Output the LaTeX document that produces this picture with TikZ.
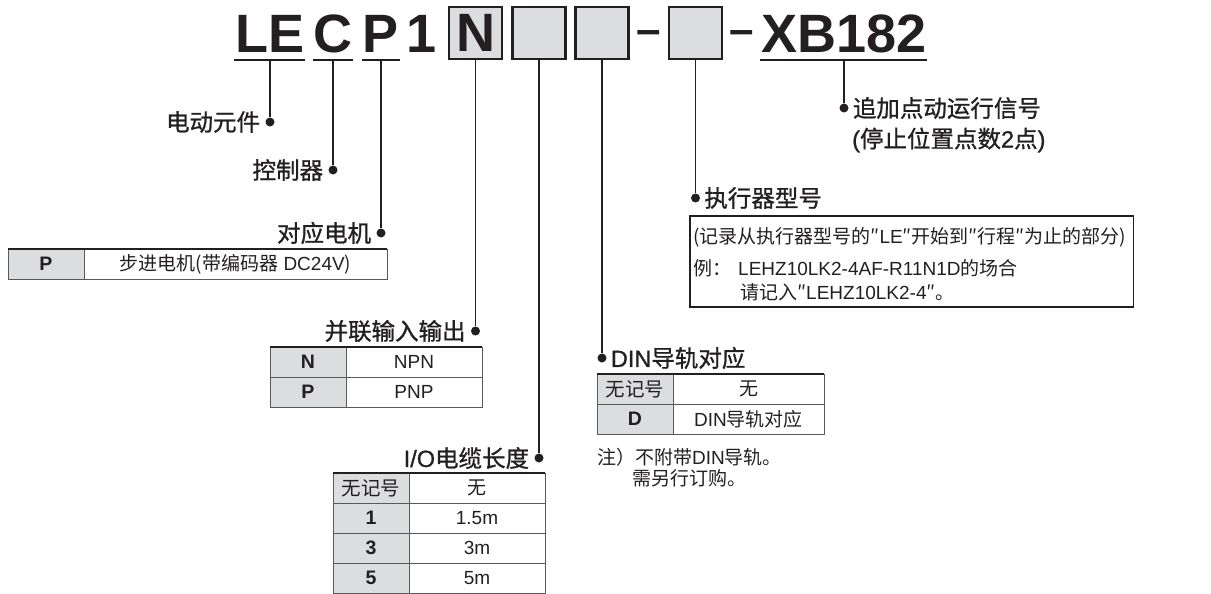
\documentclass[tikz,border=0pt]{standalone}
\usepackage{fontspec}
\setmainfont{Liberation Sans}
\newfontfamily\cjk{Noto Sans CJK SC}
\newfontfamily\cjkm[FakeBold=1]{Noto Sans CJK SC}
\newfontfamily\latm[FakeBold=1]{Liberation Sans}
\usetikzlibrary{positioning}
\definecolor{ink}{HTML}{231F20}
\definecolor{cellgray}{HTML}{DCDDDE}
\definecolor{rulegray}{HTML}{58595B}
\tikzset{
  code/.style={font=\fontsize{54}{54}\selectfont\bfseries, text=ink, inner sep=0pt, anchor=base},
  sep/.style={font=\fontsize{44}{44}\selectfont\bfseries, text=ink, inner sep=0pt, anchor=base},
  slot/.style={draw=ink, line width=2.2pt, fill=cellgray, minimum width=53pt, minimum height=52pt, inner sep=0pt, font=\fontsize{54}{54}\selectfont\bfseries, text=ink},
  uline/.style={draw=ink, line width=2.5pt},
  lead/.style={draw=ink, line width=1.6pt},
  pin/.style={circle, fill=ink, inner sep=0pt, minimum size=9pt},
  lab/.style={font=\fontsize{23.5}{30}\selectfont\cjkm, text=ink, inner sep=0pt},
  cell/.style={draw=rulegray, line width=1pt, minimum height=30pt, inner sep=0pt, outer sep=0pt, text=ink, font=\fontsize{19}{22}\selectfont},
  codecell/.style={cell, fill=cellgray, minimum width=76pt, font=\fontsize{19.5}{22}\selectfont\bfseries},
  toprule/.style={draw=ink, line width=2.2pt},
  note/.style={font=\fontsize{19}{22}\selectfont, text=ink, inner sep=0pt, anchor=west},
  actbox/.style={draw=ink, line width=1.6pt},
}
\begin{document}
\begin{tikzpicture}[x=1pt, y=-1pt]
\useasboundingbox (0,0) rectangle (1211,594);
% model code
\node[code] (LE) at (270,53) {LE};
\node[code] (C) at (333,53) {C};
\node[code] (P) at (381,53) {P};
\node[code] (one) at (421.5,53) {1};
\node[slot] (sN) at (475.5,33) {N};
\node[slot] (sIO) at (539,33) {};
\node[slot] (sDIN) at (602,33) {};
\node[sep] (d1) at (648.5,44.2) {–};
\node[slot] (sAct) at (695.5,33) {};
\node[sep] (d2) at (741.5,44.2) {–};
\node[code] (XB) at (844,53) {XB182};
\draw[uline] (234,60) -- (305,60);
\draw[uline] (313,60) -- (353,60);
\draw[uline] (362,60) -- (400,60);
\draw[uline] (760,60) -- (927,60);
\coordinate (uLE) at (270,60);
\coordinate (uC) at (333,60);
\coordinate (uP) at (381,60);
\coordinate (uXB) at (844,60);

% leads and labels
\node[pin] (pLE) at (270,122) {};
\node[pin] (pC) at (333,170) {};
\node[pin] (pP) at (381,233) {};
\node[pin] (pN) at (475.5,331) {};
\node[pin] (pIO) at (539,458) {};
\node[pin] (pDIN) at (602,358) {};
\node[pin] (pAct) at (695.5,198) {};
\node[pin] (pXB) at (844,108) {};
\draw[lead] (uLE) -- (pLE);
\draw[lead] (uC) -- (pC);
\draw[lead] (uP) -- (pP);
\draw[lead] (sN.south) -- (pN);
\draw[lead] (sIO.south) -- (pIO);
\draw[lead] (sDIN.south) -- (pDIN);
\draw[lead] (sAct.south) -- (pAct);
\draw[lead] (uXB) -- (pXB);
\node[lab, left=5pt of pLE] (lLE) {电动元件};
\node[lab, left=5pt of pC] (lC) {控制器};
\node[lab, left=5pt of pP] (lP) {对应电机};
\node[lab, left=5pt of pN] (lN) {并联输入输出};
\node[lab, left=5pt of pIO] (lIO) {{\latm I/O}电缆长度};
\node[lab, right=4pt of pDIN] (lDIN) {{\latm DIN}导轨对应};
\node[lab, right=4pt of pAct] (lAct) {执行器型号};
\node[lab, right=4pt of pXB] (lXB) {追加点动运行信号};
\node[lab, anchor=west] (lXB2) at (852,140) {{\latm (}停止位置点数{\latm 2}点{\latm )}};

% motor
\node[codecell, anchor=north west] (tP) at (8,249) {P};
\node[cell, minimum width=303pt, right=0pt of tP] (tPd) {{\cjk 步进电机(带编码器} DC24V{\cjk )}};
\draw[toprule] (tP.north west) -- (tPd.north east);

% parallel I/O
\node[codecell, anchor=north west] (tN) at (270,347) {N};
\node[cell, minimum width=136pt, right=0pt of tN] (tNd) {NPN};
\node[codecell, below=0pt of tN] (tPN) {P};
\node[cell, minimum width=136pt, right=0pt of tPN] (tPNd) {PNP};
\draw[toprule] (tN.north west) -- (tNd.north east);

% I/O cable
\node[codecell, anchor=north west] (tI0) at (333,473) {\mdseries\cjk 无记号};
\node[cell, minimum width=136pt, right=0pt of tI0] (tI0d) {\cjk 无};
\node[codecell, below=0pt of tI0] (tI1) {1};
\node[cell, minimum width=136pt, right=0pt of tI1] (tI1d) {1.5m};
\node[codecell, below=0pt of tI1] (tI3) {3};
\node[cell, minimum width=136pt, right=0pt of tI3] (tI3d) {3m};
\node[codecell, below=0pt of tI3] (tI5) {5};
\node[cell, minimum width=136pt, right=0pt of tI5] (tI5d) {5m};
\draw[toprule] (tI0.north west) -- (tI0d.north east);

% DIN rail
\node[codecell, anchor=north west] (tD0) at (597,374) {\mdseries\cjk 无记号};
\node[cell, minimum width=151pt, right=0pt of tD0] (tD0d) {\cjk 无};
\node[codecell, below=0pt of tD0] (tD) {D};
\node[cell, minimum width=151pt, right=0pt of tD] (tDd) {DIN{\cjk 导轨对应}};
\draw[toprule] (tD0.north west) -- (tD0d.north east);
\node[note] (nD1) at (597,457) {{\cjk 注）不附带}DIN{\cjk 导轨。}};
\node[note] (nD2) at (632,478) {\cjk 需另行订购。};

% actuator
\node[note] (nA1) at (693,237) {{\cjk (记录从执行器型号的″}LE{\cjk ″开始到″行程″为止的部分)}};
\node[note] (nA2) at (693,268) {{\cjk 例：}\hspace{7pt}LEHZ10LK2-4AF-R11N1D{\cjk 的场合}};
\node[note] (nA3) at (740,292) {{\cjk 请记入″}LEHZ10LK2-4{\cjk ″。}};
\coordinate (aTL) at (690,216);
\coordinate (aB) at (690,307);
\draw[actbox] (aTL) rectangle ([xshift=7pt]nA1.east |- aB);
\end{tikzpicture}
\end{document}
